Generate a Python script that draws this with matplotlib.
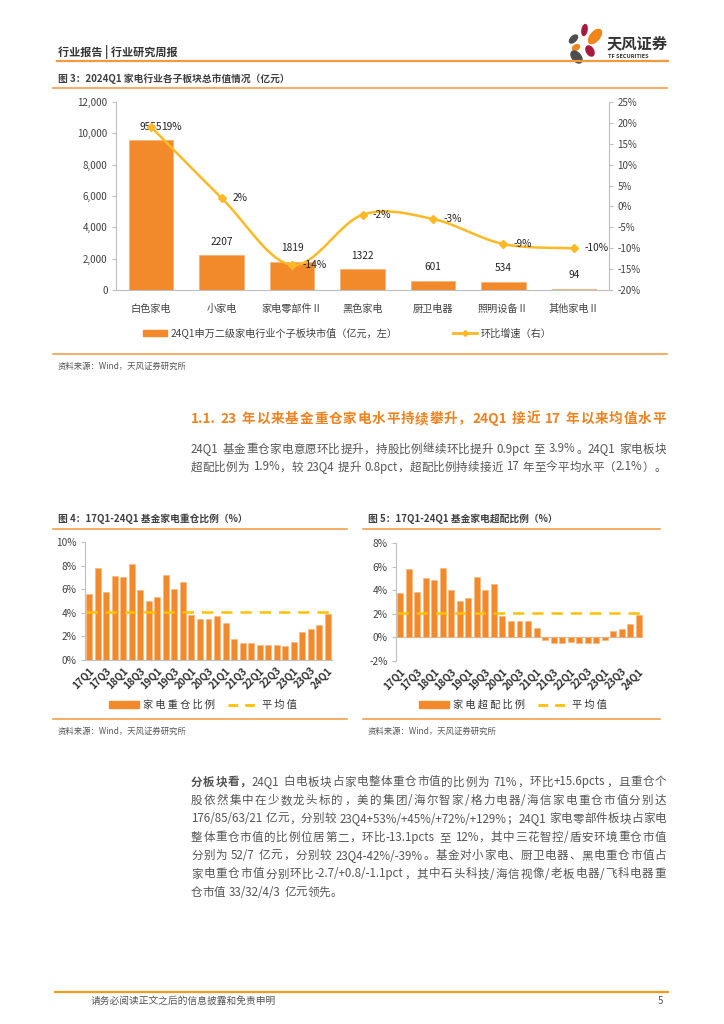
import re

import matplotlib
matplotlib.use("Agg")
import matplotlib.pyplot as plt
import numpy as np
from matplotlib.lines import Line2D
from matplotlib.patches import Ellipse, Patch

plt.rcParams["font.family"] = ["Noto Sans CJK SC", "DejaVu Sans"]
plt.rcParams["axes.unicode_minus"] = False

# ---- data ----
sectors = ["白色家电", "小家电", "家电零部件Ⅱ", "黑色家电", "厨卫电器", "照明设备Ⅱ", "其他家电Ⅱ"]
mkt_cap = [9555, 2207, 1819, 1322, 601, 534, 94]
qoq_pct = [19, 2, -14, -2, -3, -9, -10]

quarters = ["17Q1", "17Q2", "17Q3", "17Q4", "18Q1", "18Q2", "18Q3", "18Q4",
            "19Q1", "19Q2", "19Q3", "19Q4", "20Q1", "20Q2", "20Q3", "20Q4",
            "21Q1", "21Q2", "21Q3", "21Q4", "22Q1", "22Q2", "22Q3", "22Q4",
            "23Q1", "23Q2", "23Q3", "23Q4", "24Q1"]
hold_ratio = [5.6, 7.8, 5.8, 7.1, 7.05, 8.15, 5.9, 5.0, 5.3, 7.2, 6.0, 6.6,
              3.85, 3.5, 3.5, 3.75, 3.15, 1.8, 1.4, 1.4, 1.3, 1.3, 1.3, 1.15,
              1.5, 2.4, 2.65, 2.95, 3.9]
hold_avg = 4.1
over_ratio = [3.8, 5.8, 3.85, 5.0, 4.9, 5.85, 4.0, 3.1, 3.35, 5.1, 4.0, 4.5,
              1.8, 1.4, 1.4, 1.4, 0.8, -0.25, -0.45, -0.45, -0.35, -0.45, -0.45, -0.5,
              -0.2, 0.55, 0.7, 1.15, 1.9]
over_avg = 2.1

ORANGE = "#F28A2B"
GOLD = "#FDB924"
LINE_OR = "#F5A04A"
GRAY_AX = "#BFBFBF"
TXT = "#404040"

W, H = 724, 1024
fig = plt.figure(figsize=(7.24, 10.24), dpi=100)


def fx(x):
    return x / W


def fy(y):
    return 1 - y / H


def txt(x, y, s, **kw):
    kw.setdefault("va", "center")
    kw.setdefault("ha", "left")
    return fig.text(fx(x), fy(y), s, **kw)


def hline(x0, x1, y, color=LINE_OR, lw=1.2):
    fig.add_artist(Line2D([fx(x0), fx(x1)], [fy(y), fy(y)], transform=fig.transFigure,
                          color=color, lw=lw))


def axes_px(l, t, r, b):
    return fig.add_axes([fx(l), fy(b), (r - l) / W, (b - t) / H])


renderer = fig.canvas.get_renderer()


def justify(segments, x0, x1, y, size, color, fill=True):
    toks = []
    for s, w in segments:
        for m in re.finditer(r"(\s*)([\x21-\x7e]+|\S)", s):
            toks.append((m.group(2), w, len(m.group(1)) > 0))
    em = size * 100 / 72
    widths = []
    for t, w, _ in toks:
        if len(t) == 1 and ord(t) > 127:
            widths.append(em)
        else:
            a = fig.text(0, 0, t, fontsize=size, fontweight=w)
            widths.append(a.get_window_extent(renderer).width)
            a.remove()
    sp = em * 0.3
    nat = sum(widths) + sp * sum(1 for _, _, b in toks[1:] if b)
    gap = ((x1 - x0) - nat) / (len(toks) - 1) if fill else 0
    x = x0
    for i, ((t, w, b), wd) in enumerate(zip(toks, widths)):
        if b and i > 0:
            x += sp
        txt(x, y, t, fontsize=size, fontweight=w, color=color)
        x += wd + gap


def catmull(xs, ys, n=25):
    xs = np.asarray(xs, float)
    ys = np.asarray(ys, float)
    px = np.r_[xs[0], xs, xs[-1]]
    py = np.r_[ys[0], ys, ys[-1]]
    t = np.linspace(0, 1, n)[:, None]
    outx, outy = [], []
    for i in range(1, len(px) - 2):
        for p, out in ((px, outx), (py, outy)):
            p0, p1, p2, p3 = p[i - 1], p[i], p[i + 1], p[i + 2]
            seg = 0.5 * (2 * p1 + (-p0 + p2) * t + (2 * p0 - 5 * p1 + 4 * p2 - p3) * t ** 2
                         + (-p0 + 3 * p1 - 3 * p2 + p3) * t ** 3)
            out.append(seg.ravel())
    return np.concatenate(outx), np.concatenate(outy)


# ---- header ----
txt(58, 52, "行业报告 | 行业研究周报", fontsize=8, fontweight="bold", color="#333333")
hline(57, 668, 61, color="#F39A3C", lw=1.6)

logo = axes_px(560, 20, 606, 66)
logo.set_xlim(0, 46)
logo.set_ylim(46, 0)
logo.axis("off")
for (cx, cy, w, h, ang, c) in [
    (24.5, 10, 5, 11, 10, "#A8193F"),
    (13.5, 19, 5.5, 10, 45, "#4D4D4D"),
    (35, 16.5, 9, 17, 40, "#F08519"),
    (16, 27.5, 5, 7.5, 60, "#F08519"),
    (30, 31, 7, 11, -30, "#A8193F"),
    (16.5, 37, 8.5, 14, -40, "#4D4D4D"),
]:
    logo.add_patch(Ellipse((cx, cy), w, h, angle=ang, color=c))
txt(607, 43, "天风证券", fontsize=11, fontweight="bold", color="#333333")
txt(608, 56, "TF SECURITIES", fontsize=4, fontweight="bold", color="#333333")

# ---- figure 3 ----
txt(58, 79, "图 3：2024Q1 家电行业各子板块总市值情况（亿元）", fontsize=7, fontweight="bold", color=TXT)
hline(53, 667, 88)

ax = axes_px(116, 102, 609, 290)
x = np.arange(len(sectors))
ax.bar(x, mkt_cap, width=0.63, color=ORANGE, edgecolor="#F8B47A", linewidth=0.6, zorder=2)
ax.set_xlim(-0.5, len(sectors) - 0.5)
ax.set_ylim(0, 12000)
ax.set_yticks(range(0, 12001, 2000))
ax.set_yticklabels([f"{v:,}" for v in range(0, 12001, 2000)], fontsize=7, color=TXT)
ax.set_xticks(x)
ax.set_xticklabels(sectors, fontsize=7.3, color=TXT)
ax.tick_params(axis="x", length=0, pad=10)
ax.tick_params(axis="y", length=3, color=GRAY_AX, pad=3)
for s in ["top", "right"]:
    ax.spines[s].set_visible(False)
for s in ["left", "bottom"]:
    ax.spines[s].set_color(GRAY_AX)
for i, v in enumerate(mkt_cap):
    ax.annotate(str(v), (i, v), xytext=(0, 9.5), textcoords="offset points",
                ha="center", va="center", fontsize=7.3, color="#222222")

ax2 = ax.twinx()
ax2.set_ylim(-20, 25)
ax2.set_yticks(range(-20, 26, 5))
ax2.set_yticklabels([f"{v}%" for v in range(-20, 26, 5)], fontsize=7, color=TXT)
ax2.tick_params(axis="y", length=3, color=GRAY_AX, pad=3)
for s in ["top", "left", "bottom"]:
    ax2.spines[s].set_visible(False)
ax2.spines["right"].set_color(GRAY_AX)
sx, sy = catmull(x, qoq_pct)
ax2.plot(sx, sy, color=GOLD, lw=1.8, zorder=3)
ax2.plot(x, qoq_pct, ls="none", marker="D", ms=4, color=GOLD, zorder=4)
for i, v in enumerate(qoq_pct):
    ax2.annotate(f"{v}%", (i, v), xytext=(7.5, 0), textcoords="offset points",
                 ha="left", va="center", fontsize=7.3, color="#222222")

fig.legend([Patch(facecolor=ORANGE, edgecolor=ORANGE),
            Line2D([], [], color=GOLD, lw=2, marker="D", ms=3)],
           ["24Q1申万二级家电行业个子板块市值（亿元，左）", "环比增速（右）"],
           loc="center", bbox_to_anchor=(fx(347), fy(333)), ncol=2, frameon=False,
           fontsize=7.3, handlelength=2.4, handleheight=0.55, columnspacing=5.5,
           handletextpad=0.3, labelcolor=TXT)
hline(53, 667, 354)
txt(58, 366, "资料来源：Wind，天风证券研究所", fontsize=6, color="#555555")

# ---- section text ----
justify([("1.1. 23 年以来基金重仓家电水平持续攀升，24Q1 接近 17 年以来均值水平", "bold")],
        191, 666, 419, 9.8, "#F0821E")
BODY = "#555555"
justify([("24Q1 基金重仓家电意愿环比提升，持股比例继续环比提升 0.9pct 至 3.9%。24Q1 家电板块", "normal")],
        191, 666, 449, 8.3, BODY)
justify([("超配比例为 1.9%，较 23Q4 提升 0.8pct，超配比例持续接近 17 年至今平均水平（2.1%）。", "normal")],
        191, 666, 467, 8.3, BODY)


# ---- figures 4 and 5 ----
def quarter_chart(l, t, r, b, vals, avg, ylo, yhi):
    a = axes_px(l, t, r, b)
    xq = np.arange(len(quarters))
    a.bar(xq, vals, width=0.7, color=ORANGE, edgecolor="#F8B47A", linewidth=0.4, zorder=2)
    a.hlines(avg, -0.35, len(quarters) - 0.65, color="#FFC000", lw=1.8,
             linestyles=(0, (4.5, 3.2)), zorder=3)
    a.set_xlim(-0.5, len(quarters) - 0.5)
    a.set_ylim(ylo, yhi)
    ticks = list(range(ylo, yhi + 1, 2))
    a.set_yticks(ticks)
    a.set_yticklabels([f"{v}%" for v in ticks], fontsize=7.3, color=TXT)
    a.set_xticks(xq[::2])
    a.set_xticklabels(quarters[::2], rotation=45, ha="right", rotation_mode="anchor",
                      fontsize=7.2, fontweight="bold", color="#333333")
    a.tick_params(axis="x", length=0, pad=4)
    a.tick_params(axis="y", length=3, color=GRAY_AX, pad=3)
    for s in ["top", "right"]:
        a.spines[s].set_visible(False)
    a.spines["left"].set_color(GRAY_AX)
    if ylo < 0:
        a.spines["bottom"].set_visible(False)
        a.axhline(0, color=GRAY_AX, lw=0.8, zorder=1)
    else:
        a.spines["bottom"].set_color(GRAY_AX)
    return a


txt(58, 519, "图 4：17Q1-24Q1 基金家电重仓比例（%）", fontsize=7, fontweight="bold", color=TXT)
hline(53, 347, 529)
quarter_chart(85, 542, 332, 660, hold_ratio, hold_avg, 0, 10)

txt(368, 519, "图 5：17Q1-24Q1 基金家电超配比例（%）", fontsize=7, fontweight="bold", color=TXT)
hline(363, 660, 529)
quarter_chart(396, 543, 643, 661, over_ratio, over_avg, -2, 8)

for cx, lab in [(203, "家 电 重 仓 比 例"), (513, "家 电 超 配 比 例")]:
    fig.legend([Patch(facecolor=ORANGE, edgecolor=ORANGE),
                Line2D([], [], color="#FFC000", lw=2, ls=(0, (3.5, 2.5)))],
               [lab, "平 均 值"], loc="center", bbox_to_anchor=(fx(cx), fy(705)), ncol=2,
               frameon=False, fontsize=7.3, handlelength=3, handleheight=0.6,
               columnspacing=1.2, handletextpad=0.4, labelcolor="#333333")

hline(53, 347, 719)
hline(363, 660, 719)
txt(58, 731, "资料来源：Wind，天风证券研究所", fontsize=6, color="#555555")
txt(368, 731, "资料来源：Wind，天风证券研究所", fontsize=6, color="#555555")

# ---- paragraph ----
para = [
    [("分板块看，", "bold"), ("24Q1 白电板块占家电整体重仓市值的比例为 71%，环比+15.6pcts，且重仓个", "normal")],
    [("股依然集中在少数龙头标的，美的集团/海尔智家/格力电器/海信家电重仓市值分别达", "normal")],
    [("176/85/63/21 亿元，分别较 23Q4+53%/+45%/+72%/+129%；24Q1 家电零部件板块占家电", "normal")],
    [("整体重仓市值的比例位居第二，环比-13.1pcts 至 12%，其中三花智控/盾安环境重仓市值", "normal")],
    [("分别为 52/7 亿元，分别较 23Q4-42%/-39%。基金对小家电、厨卫电器、黑电重仓市值占", "normal")],
    [("家电重仓市值分别环比-2.7/+0.8/-1.1pct，其中石头科技/海信视像/老板电器/飞科电器重", "normal")],
    [("仓市值 33/32/4/3 亿元领先。", "normal")],
]
for i, segs in enumerate(para):
    justify(segs, 191, 666, 782 + 18.4 * i, 8.3, BODY, fill=i < len(para) - 1)

# ---- footer ----
hline(55, 668, 992, color="#F39A1E", lw=1.6)
txt(91, 1001, "请务必阅读正文之后的信息披露和免责申明", fontsize=7, color="#555555")
txt(658, 1001, "5", fontsize=7, color="#555555")

fig.savefig("out.png", dpi=100, facecolor="white")
